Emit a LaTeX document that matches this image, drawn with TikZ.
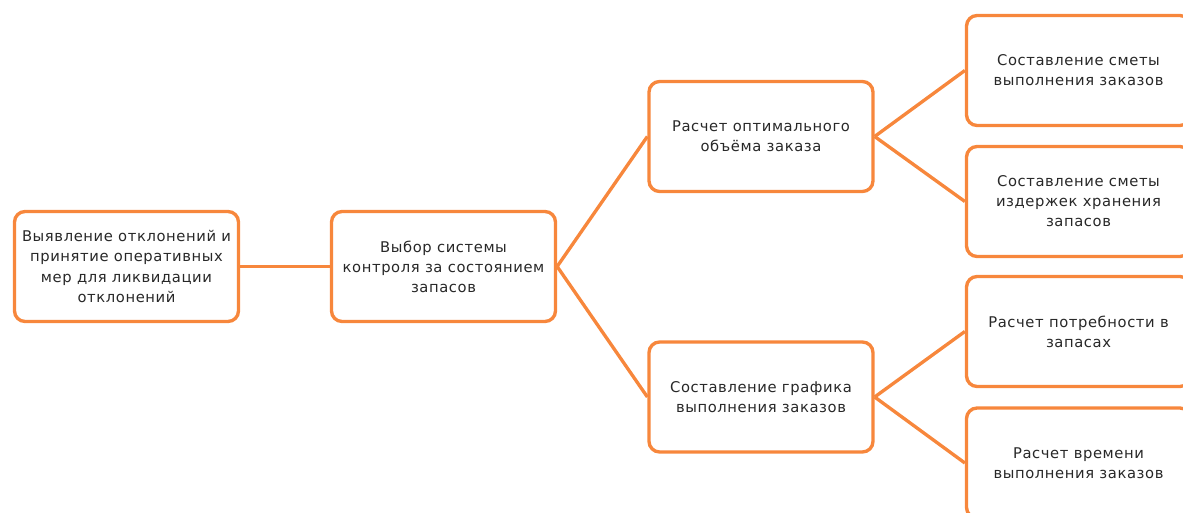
\documentclass[tikz,border=0pt]{standalone}
\usepackage{fontspec}
\setmainfont{DejaVu Sans}[LetterSpace=4]
\usetikzlibrary{positioning}
\definecolor{plan-orange}{RGB}{247,135,60}
\definecolor{plan-text}{RGB}{40,40,40}
\tikzset{
  plan-step/.style={draw=plan-orange, fill=white, rounded corners=6pt, line width=1.9pt,
    minimum width=4.48cm, minimum height=2.2cm, inner sep=2pt, align=center,
    text=plan-text, font=\fontsize{8.4}{11.4}\selectfont},
  plan-link/.style={draw=plan-orange, line width=1.9pt}
}

\begin{document}
\begin{tikzpicture}[x=0.02cm, y=-0.02cm]
  % Frame
  \useasboundingbox (0,0) rectangle (1183,513);
  \clip (0,0) rectangle (1183,513);

  % Left chain
  \node[plan-step] (deviation) at (126.5,266.5) {Выявление отклонений и\\принятие оперативных\\мер для ликвидации\\отклонений};
  \node[plan-step] (control) at (443.5,266.5) {Выбор системы\\контроля за состоянием\\запасов};

  % Middle level
  \node[plan-step] (order-size) at (761,136.5) {Расчет оптимального\\объёма заказа};
  \node[plan-step] (schedule) at (761,397) {Составление графика\\выполнения заказов};

  % Right level (cut by the frame)
  \node[plan-step] (order-estimate) at (1078.5,70.5) {Составление сметы\\выполнения заказов};
  \node[plan-step] (storage-estimate) at (1078.5,201.5) {Составление сметы\\издержек хранения\\запасов};
  \node[plan-step] (demand) at (1078.5,331.5) {Расчет потребности в\\запасах};
  \node[plan-step] (lead-time) at (1078.5,463) {Расчет времени\\выполнения заказов};

  % Links
  \draw[plan-link] (deviation.east) -- (control.west);
  \draw[plan-link] (control.east) -- (order-size.west);
  \draw[plan-link] (control.east) -- (schedule.west);
  \draw[plan-link] (order-size.east) -- (order-estimate.west);
  \draw[plan-link] (order-size.east) -- (storage-estimate.west);
  \draw[plan-link] (schedule.east) -- (demand.west);
  \draw[plan-link] (schedule.east) -- (lead-time.west);
\end{tikzpicture}
\end{document}
